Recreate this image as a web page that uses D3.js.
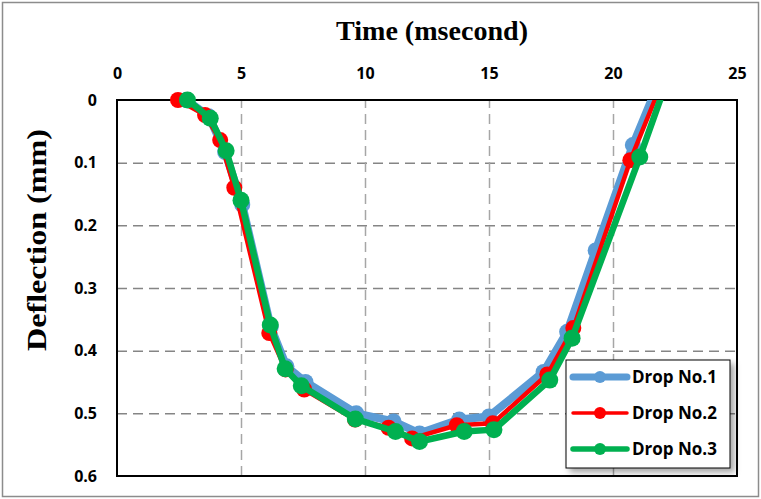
<!DOCTYPE html>
<html>
<head>
<meta charset="utf-8">
<script src="https://cdn.jsdelivr.net/npm/d3@7"></script>
<style>
  body { margin: 0; background: #fff; }
</style>
</head>
<body>
<div id="chartContainer"></div>
<script>
// Data: [time (ms), deflection (mm)]
const drop1 = [[2.8, 0], [3.7, 0.026], [4.36, 0.083], [5.05, 0.167], [6.2, 0.362], [6.83, 0.425],
    [7.6, 0.45], [9.65, 0.5], [11.15, 0.513], [12.2, 0.532], [13.8, 0.51], [15.0, 0.505],
    [17.2, 0.434], [18.15, 0.37], [19.3, 0.24], [20.8, 0.072], [22.07, -0.05]];
const drop2 = [[2.46, 0], [3.55, 0.024], [4.16, 0.064], [4.73, 0.14], [6.14, 0.372], [6.8, 0.43],
    [7.55, 0.462], [9.6, 0.51], [10.95, 0.523], [11.9, 0.54], [13.7, 0.519], [15.15, 0.516],
    [17.35, 0.438], [18.4, 0.364], [20.7, 0.096], [22.2, -0.05]];
const drop3 = [[2.84, 0], [3.76, 0.029], [4.4, 0.081], [5.0, 0.16], [6.18, 0.359], [6.78, 0.429],
    [7.43, 0.456], [9.61, 0.509], [11.23, 0.529], [12.2, 0.545], [14.0, 0.529], [15.2, 0.526],
    [17.45, 0.447], [18.35, 0.38], [21.08, 0.091], [22.35, -0.05]];
const seriesNames = ["Drop No.1", "Drop No.2", "Drop No.3"];
const seriesColors = ["#5B9BD5", "#FF0000", "#00B050"];
const xTicks = [0, 5, 10, 15, 20, 25];
const yTicks = [0, 0.1, 0.2, 0.3, 0.4, 0.5, 0.6];

function createChart() {
    const width = 761;
    const height = 499;
    const marginTop = 100;
    const marginLeft = 117;
    const plotRight = 737;
    const plotBottom = 476;

    const x = d3.scaleLinear().domain([0, 25]).range([marginLeft, plotRight]);
    const y = d3.scaleLinear().domain([0, 0.6]).range([marginTop, plotBottom]);

    const svg = d3.create("svg")
        .attr("viewBox", [0, 0, width, height])
        .attr("width", width)
        .attr("height", height);

    // outer chart border
    svg.append("rect")
        .attr("x", 2.5).attr("y", 2.5)
        .attr("width", width - 5).attr("height", height - 5)
        .attr("fill", "#fff").attr("stroke", "#8c8c8c").attr("stroke-width", 1.5);

    const defs = svg.append("defs");
    defs.append("clipPath").attr("id", "plotClip")
        .append("rect")
        .attr("x", marginLeft).attr("y", marginTop)
        .attr("width", plotRight - marginLeft).attr("height", plotBottom - marginTop);
    const shadow = defs.append("filter").attr("id", "shadow")
        .attr("x", "-10%").attr("y", "-10%").attr("width", "130%").attr("height", "130%");
    shadow.append("feDropShadow")
        .attr("dx", 4).attr("dy", 4).attr("stdDeviation", 3)
        .attr("flood-color", "#000").attr("flood-opacity", 0.35);

    // grid lines
    svg.append("g")
        .attr("transform", `translate(${marginLeft},0)`)
        .call(d3.axisLeft(y).tickValues(yTicks.slice(1, -1)).tickSize(-(plotRight - marginLeft)).tickFormat(""))
        .call(g => g.select(".domain").remove())
        .call(g => g.selectAll("line").attr("stroke", "#858585").attr("stroke-width", 1.5)
            .attr("stroke-dasharray", "10,6"));
    svg.append("g")
        .attr("transform", `translate(0,${plotBottom})`)
        .call(d3.axisTop(x).tickValues(xTicks.slice(1, -1)).tickSize(plotBottom - marginTop).tickFormat(""))
        .call(g => g.select(".domain").remove())
        .call(g => g.selectAll("line").attr("stroke", "#a6a6a6").attr("stroke-width", 1.5)
            .attr("stroke-dasharray", "10,6"));

    // plot frame
    svg.append("rect")
        .attr("x", marginLeft).attr("y", marginTop)
        .attr("width", plotRight - marginLeft).attr("height", plotBottom - marginTop)
        .attr("fill", "none").attr("stroke", "#000").attr("stroke-width", 2);

    // tick labels
    svg.append("g")
        .attr("transform", `translate(0,${marginTop - 21})`)
        .call(d3.axisTop(x).tickValues(xTicks).tickSize(0).tickPadding(0))
        .call(g => g.select(".domain").remove())
        .call(g => g.selectAll("text")
            .attr("font-family", "'Open Sans', sans-serif")
            .attr("font-weight", "bold").attr("font-size", 16).attr("fill", "#000"));
    svg.append("g")
        .attr("transform", `translate(${marginLeft - 20},0)`)
        .call(d3.axisLeft(y).tickValues(yTicks).tickSize(0).tickPadding(0).tickFormat(d3.format("")))
        .call(g => g.select(".domain").remove())
        .call(g => g.selectAll("text")
            .attr("font-family", "'Open Sans', sans-serif")
            .attr("font-weight", "bold").attr("font-size", 16).attr("fill", "#000"));

    // axis titles
    svg.append("text")
        .attr("x", 432).attr("y", 40)
        .attr("text-anchor", "middle")
        .attr("font-family", "'Liberation Serif', serif")
        .attr("font-weight", "bold").attr("font-size", 27)
        .attr("textLength", 192).attr("lengthAdjust", "spacingAndGlyphs")
        .text("Time (msecond)");
    svg.append("text")
        .attr("transform", "translate(46,240) rotate(-90)")
        .attr("text-anchor", "middle")
        .attr("font-family", "'Liberation Serif', serif")
        .attr("font-weight", "bold").attr("font-size", 27)
        .attr("textLength", 222).attr("lengthAdjust", "spacingAndGlyphs")
        .text("Deflection (mm)");

    // series
    const allSeries = [drop1, drop2, drop3];
    const lineWidths = [8, 4.5, 6.5];
    const radii = [8, 8, 8.5];
    const line = d3.line().x(d => x(d[0])).y(d => y(d[1]));

    allSeries.forEach((data, i) => {
        svg.append("path")
            .datum(data)
            .attr("clip-path", "url(#plotClip)")
            .attr("fill", "none")
            .attr("stroke", seriesColors[i])
            .attr("stroke-width", lineWidths[i])
            .attr("stroke-linejoin", "round")
            .attr("d", line);
        svg.append("g")
            .selectAll("circle")
            .data(data.filter(d => d[1] >= 0))
            .enter().append("circle")
            .attr("cx", d => x(d[0]))
            .attr("cy", d => y(d[1]))
            .attr("r", radii[i])
            .attr("fill", seriesColors[i]);
    });

    // legend
    const legend = svg.append("g");
    legend.append("rect")
        .attr("x", 566).attr("y", 360)
        .attr("width", 164).attr("height", 108)
        .attr("fill", "#fff").attr("stroke", "#000").attr("stroke-width", 1)
        .attr("filter", "url(#shadow)");
    const rowY = [377, 413, 449];
    seriesNames.forEach((name, i) => {
        const row = legend.append("g").attr("transform", `translate(0,${rowY[i]})`);
        row.append("line")
            .attr("x1", 573).attr("x2", 627)
            .attr("stroke", seriesColors[i]).attr("stroke-width", lineWidths[i] - 1)
            .attr("stroke-linecap", "round");
        row.append("circle").attr("cx", 600).attr("r", 6).attr("fill", seriesColors[i]);
        row.append("text")
            .attr("x", 632).attr("dy", "0.35em")
            .attr("font-family", "'Open Sans', sans-serif")
            .attr("font-weight", "bold").attr("font-size", 17)
            .text(name);
    });

    return svg.node();
}

document.getElementById("chartContainer").appendChild(createChart());
</script>
</body>
</html>
